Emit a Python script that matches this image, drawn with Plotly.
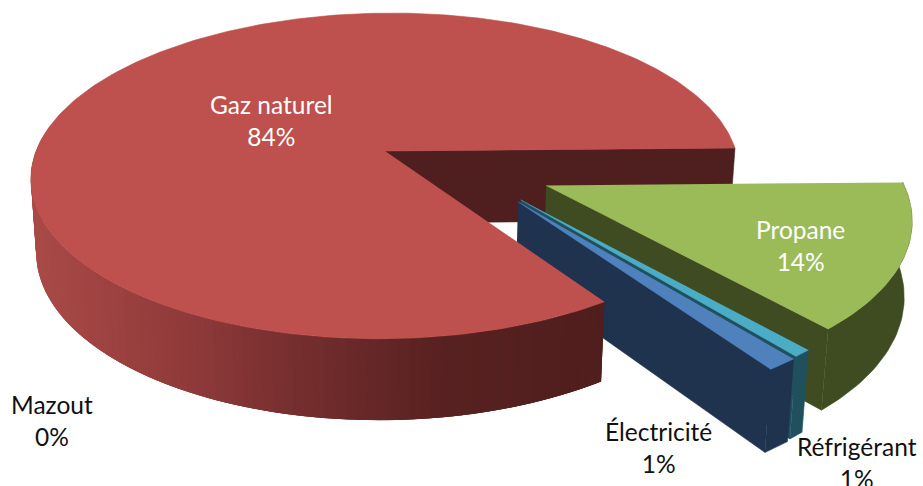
"""3D exploded pie chart drawn as projected polygons."""

import numpy as np
import plotly.graph_objects as go

categories = ["Gaz naturel", "Mazout", "Électricité", "Réfrigérant", "Propane"]
values = [84.2, 0.0, 1.2, 0.7, 13.9]

# pie geometry, in page pixels
CX, CY = 385, 151
RADIUS = 350
RY_TOP, RY_BOTTOM = 159, 167
DEPTH = 72
BOTTOM_SCALE = 0.985
PERSPECTIVE = 0.153
TILT = 0.0086

# how far each slice is pulled out of the pie (unit radius)
explode = {
    "Gaz naturel": (0, 0),
    "Mazout": (0, 0),
    "Électricité": (0.362, -0.311),
    "Réfrigérant": (0.37, -0.30),
    "Propane": (0.445, -0.218),
}
slice_radius = {"Propane": 0.985}
top_colors = {
    "Gaz naturel": "#BE504D",
    "Électricité": "#4F81BD",
    "Réfrigérant": "#4BACC6",
    "Propane": "#9BBB59",
}
side_colors = {
    "Électricité": "#1F334F",
    "Réfrigérant": "#20505E",
    "Propane": "#3F4B20",
}
label_colors = {"Gaz naturel": "white", "Propane": "white"}
label_centers = {
    "Gaz naturel": (271, 120),
    "Mazout": (52, 420),
    "Électricité": (658, 447),
    "Réfrigérant": (857, 462),
    "Propane": (800, 245),
}

# shading of the big slice rim from left to right
SHADE_X = [30, 190, 300, 430, 610]
SHADE_RGB = [(170, 75, 72), (143, 58, 58), (117, 46, 46), (90, 34, 34), (79, 30, 29)]
FACE_DARK = "#4F1E1E"


def project(u, v, bottom=False):
    u, v = np.asarray(u, dtype=float), np.asarray(v, dtype=float)
    p = 1 / (1 + PERSPECTIVE * v)
    if bottom:
        x = CX + RADIUS * BOTTOM_SCALE * u * p
        y = CY + DEPTH - RY_BOTTOM * v * p
    else:
        x = CX + RADIUS * u * p
        y = CY - RY_TOP * v * p
    return x, y - TILT * (x - CX)


def arc(theta1, theta2, offset, n=40, radius=1.0):
    t = np.radians(np.linspace(theta1, theta2, n))
    return radius * np.cos(t) + offset[0], radius * np.sin(t) + offset[1]


def polygon(fig, x, y, color, line_width=0.6):
    fig.add_trace(
        go.Scatter(
            x=np.asarray(x),
            y=np.asarray(y),
            mode="lines",
            fill="toself",
            fillcolor=color,
            line=dict(color=color, width=line_width),
            hoverinfo="skip",
            showlegend=False,
        )
    )


def draw_top(fig, theta1, theta2, offset, color, radius=1.0):
    n = max(int(abs(theta2 - theta1)), 6)
    u, v = arc(theta1, theta2, offset, n, radius)
    x, y = project(np.r_[offset[0], u], np.r_[offset[1], v])
    polygon(fig, x, y, color)


def draw_face(fig, theta, offset, color, radius=1.0):
    """Straight cut face from the slice tip to its rim."""
    u = [offset[0], offset[0] + radius * np.cos(np.radians(theta))]
    v = [offset[1], offset[1] + radius * np.sin(np.radians(theta))]
    xt, yt = project(u, v)
    xb, yb = project(u, v, bottom=True)
    polygon(fig, np.r_[xt, xb[::-1]], np.r_[yt, yb[::-1]], color)


def draw_rim(fig, theta1, theta2, offset, color, radius=1.0):
    u, v = arc(theta1, theta2, offset, 40, radius)
    xt, yt = project(u, v)
    xb, yb = project(u, v, bottom=True)
    polygon(fig, np.r_[xt, xb[::-1]], np.r_[yt, yb[::-1]], color)


def shade(x):
    rgb = [np.interp(x, SHADE_X, [c[i] for c in SHADE_RGB]) for i in range(3)]
    return "rgb(%d,%d,%d)" % tuple(rgb)


# slice angles, counter-clockwise from the east
ends = np.cumsum(values) / sum(values) * 360
starts = np.r_[0, ends[:-1]]
angles = {c: (s, e) for c, s, e in zip(categories, starts, ends)}

fig = go.Figure()

# inner face of the big slice sits behind everything
gas_start, gas_end = angles["Gaz naturel"]
draw_face(fig, gas_start, explode["Gaz naturel"], FACE_DARK)

# pulled out slices, back to front
for name in ["Propane", "Réfrigérant", "Électricité"]:
    a, b = angles[name]
    off = explode[name]
    rad = slice_radius.get(name, 1.0)
    draw_rim(fig, a, b, off, side_colors[name], rad)
    draw_face(fig, a, off, side_colors[name], rad)
    draw_top(fig, a, b, off, top_colors[name], rad)

# big slice rim and top go over the tips of the others; each strip runs
# on under the next one so no seams show
steps = np.arange(170, gas_end, 1.5)
for a in steps:
    b = min(a + 4.5, gas_end)
    u, v = arc(a, b, (0, 0), 5)
    xt, yt = project(u, v)
    xb, yb = project(u, v, bottom=True)
    polygon(fig, np.r_[xt, xb[::-1]], np.r_[yt, yb[::-1]], shade(xt[:2].mean()), 0)
draw_top(fig, gas_start, gas_end, explode["Gaz naturel"], top_colors["Gaz naturel"])

annotations = []
for name, val in zip(categories, values):
    lx, ly = label_centers[name]
    annotations.append(
        dict(
            x=lx,
            y=ly,
            text=f"{name}<br>{round(val)}%",
            showarrow=False,
            font=dict(family="Lato", size=24.5, color=label_colors.get(name, "#111111")),
            align="center",
        )
    )

fig.update_layout(
    width=923,
    height=486,
    margin=dict(l=0, r=0, t=0, b=0),
    paper_bgcolor="white",
    plot_bgcolor="white",
    annotations=annotations,
    xaxis=dict(range=[0, 923], visible=False),
    yaxis=dict(range=[486, 0], visible=False),
    showlegend=False,
)

fig.write_html(
    "out.html",
    config=dict(displayModeBar=False),
    post_script="document.body.style.margin='0';document.body.style.overflow='hidden';",
)
